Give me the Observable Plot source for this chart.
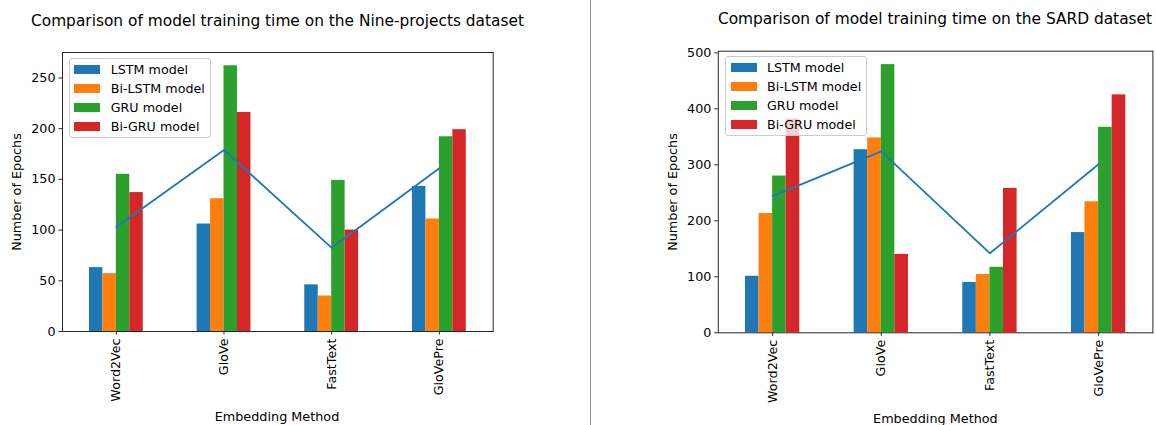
<!DOCTYPE html>
<html>
<head>
<meta charset="utf-8">
<script src="https://cdn.jsdelivr.net/npm/d3@7"></script>
<script src="https://cdn.jsdelivr.net/npm/@observablehq/plot@0.6"></script>
<style>
  html, body { margin: 0; padding: 0; background: #fff; }
  #root { position: relative; width: 1156px; height: 425px; overflow: hidden; background: #fff;
          font-family: "DejaVu Sans", sans-serif; color: #000; }
  .abs { position: absolute; white-space: nowrap; transform: translate(-50%, -50%); line-height: 1; }
  .title { font-size: 15.4px; }
  .lab { font-size: 12.8px; }
  .ylab { transform: translate(-50%, -50%) rotate(-90deg); }
  .legend { position: absolute; box-sizing: border-box; border: 1px solid #cccccc; border-radius: 3px;
            background: rgba(255,255,255,0.8); }
  .sw { position: absolute; width: 26px; height: 9px; }
  .lt { position: absolute; font-size: 12.7px; line-height: 1; transform: translateY(-50%); white-space: nowrap; }
  .chart { position: absolute; top: 0; }
  #divider { position: absolute; left: 590px; top: 0; width: 1px; height: 425px; background: #8c8c8c; }
</style>
</head>
<body>
<div id="root">
  <div id="divider"></div>
</div>
<script>
// ---- data ----
const categories = ["Word2Vec", "GloVe", "FastText", "GloVePre"];
const seriesNames = ["LSTM model", "Bi-LSTM model", "GRU model", "Bi-GRU model"];
const seriesColors = ["#1f77b4", "#ff7f0e", "#2ca02c", "#d62728"];

// Nine-projects dataset
const nineLSTM   = [63, 106, 46, 143];
const nineBiLSTM = [57, 131, 35, 111];
const nineGRU    = [155, 262, 149, 192];
const nineBiGRU  = [137, 216, 100, 199];
const nineAvg    = [103, 179, 82.5, 161];
const nineYTicks = [0, 50, 100, 150, 200, 250];

// SARD dataset
const sardLSTM   = [101, 327, 90, 179];
const sardBiLSTM = [213, 348, 104, 234];
const sardGRU    = [280, 479, 117, 367];
const sardBiGRU  = [382, 140, 258, 425];
const sardAvg    = [244, 324, 142, 301];
const sardYTicks = [0, 100, 200, 300, 400, 500];

const titleNine = "Comparison of model training time on the Nine-projects dataset";
const titleSard = "Comparison of model training time on the SARD dataset";
const yLabel = "Number of Epochs";
const xLabel = "Embedding Method";

function toRows(seriesArrays) {
  const rows = [];
  seriesArrays.forEach((arr, si) => {
    arr.forEach((v, ci) => rows.push({ci, si, series: seriesNames[si], value: v}));
  });
  return rows;
}

function makeChart(cfg) {
  const rows = toRows(cfg.series);
  const groupWidth = 0.5, barW = groupWidth / seriesNames.length;
  return Plot.plot({
    width: cfg.width,
    height: 425,
    marginLeft: cfg.ml, marginRight: cfg.mr, marginTop: cfg.mt, marginBottom: cfg.mb,
    style: {fontFamily: "DejaVu Sans, sans-serif", fontSize: "12.7px", color: "#000", background: "transparent", overflow: "visible"},
    x: {domain: [-0.5, categories.length - 0.5]},
    y: {domain: cfg.yDomain},
    color: {domain: seriesNames, range: seriesColors},
    marks: [
      Plot.rect(rows, {
        x1: d => d.ci - groupWidth / 2 + d.si * barW,
        x2: d => d.ci - groupWidth / 2 + (d.si + 1) * barW,
        y1: 0, y2: "value", fill: "series"
      }),
      Plot.lineY(cfg.avg, {x: (d, i) => i, y: d => d, stroke: "#1f77b4", strokeWidth: 1.8}),
      Plot.frame({stroke: "#262626", strokeWidth: 1}),
      Plot.axisX({ticks: categories.map((c, i) => i), tickFormat: i => categories[i],
                  tickRotate: -90, tickSize: 3.5, tickPadding: 3.5, label: null, stroke: "#262626"}),
      Plot.axisY({ticks: cfg.yTicks, tickSize: 3.5, tickPadding: 3.5, label: null, stroke: "#262626"})
    ]
  });
}

const root = document.getElementById("root");

function addChart(cfg) {
  const wrap = document.createElement("div");
  wrap.className = "chart";
  wrap.style.left = cfg.left + "px";
  wrap.appendChild(makeChart(cfg));
  root.appendChild(wrap);

  const t = document.createElement("div");
  t.className = "abs title"; t.textContent = cfg.title;
  t.style.left = cfg.titleX + "px"; t.style.top = cfg.titleY + "px";
  root.appendChild(t);

  const yl = document.createElement("div");
  yl.className = "abs lab ylab"; yl.textContent = yLabel;
  yl.style.left = cfg.yLabX + "px"; yl.style.top = cfg.yLabY + "px";
  root.appendChild(yl);

  const xl = document.createElement("div");
  xl.className = "abs lab"; xl.textContent = xLabel;
  xl.style.left = cfg.xLabX + "px"; xl.style.top = cfg.xLabY + "px";
  root.appendChild(xl);

  const lg = document.createElement("div");
  lg.className = "legend";
  lg.style.left = cfg.legX + "px"; lg.style.top = cfg.legY + "px";
  lg.style.width = "142px"; lg.style.height = "80px";
  seriesNames.forEach((name, i) => {
    const cy = 10.7 + i * 19;
    const sw = document.createElement("div");
    sw.className = "sw"; sw.style.background = seriesColors[i];
    sw.style.left = "4.5px"; sw.style.top = (cy - 4.5) + "px";
    lg.appendChild(sw);
    const lt = document.createElement("div");
    lt.className = "lt"; lt.textContent = name;
    lt.style.left = "41px"; lt.style.top = cy + "px";
    lg.appendChild(lt);
  });
  root.appendChild(lg);
}

addChart({
  left: 0, width: 590, ml: 62, mr: 97.3, mt: 52, mb: 94,
  yDomain: [0, 275.1], yTicks: nineYTicks,
  series: [nineLSTM, nineBiLSTM, nineGRU, nineBiGRU], avg: nineAvg,
  title: titleNine, titleX: 277.5, titleY: 21.7,
  yLabX: 16.7, yLabY: 191.5, xLabX: 277, xLabY: 416.7,
  legX: 68.7, legY: 58.3
});

addChart({
  left: 591, width: 565, ml: 126.8, mr: 3.6, mt: 50.7, mb: 92.7,
  yDomain: [0, 502.95], yTicks: sardYTicks,
  series: [sardLSTM, sardBiLSTM, sardGRU, sardBiGRU], avg: sardAvg,
  title: titleSard, titleX: 935, titleY: 20,
  yLabX: 672.6, yLabY: 191.5, xLabX: 935.4, xLabY: 419,
  legX: 725, legY: 56
});
</script>
</body>
</html>
